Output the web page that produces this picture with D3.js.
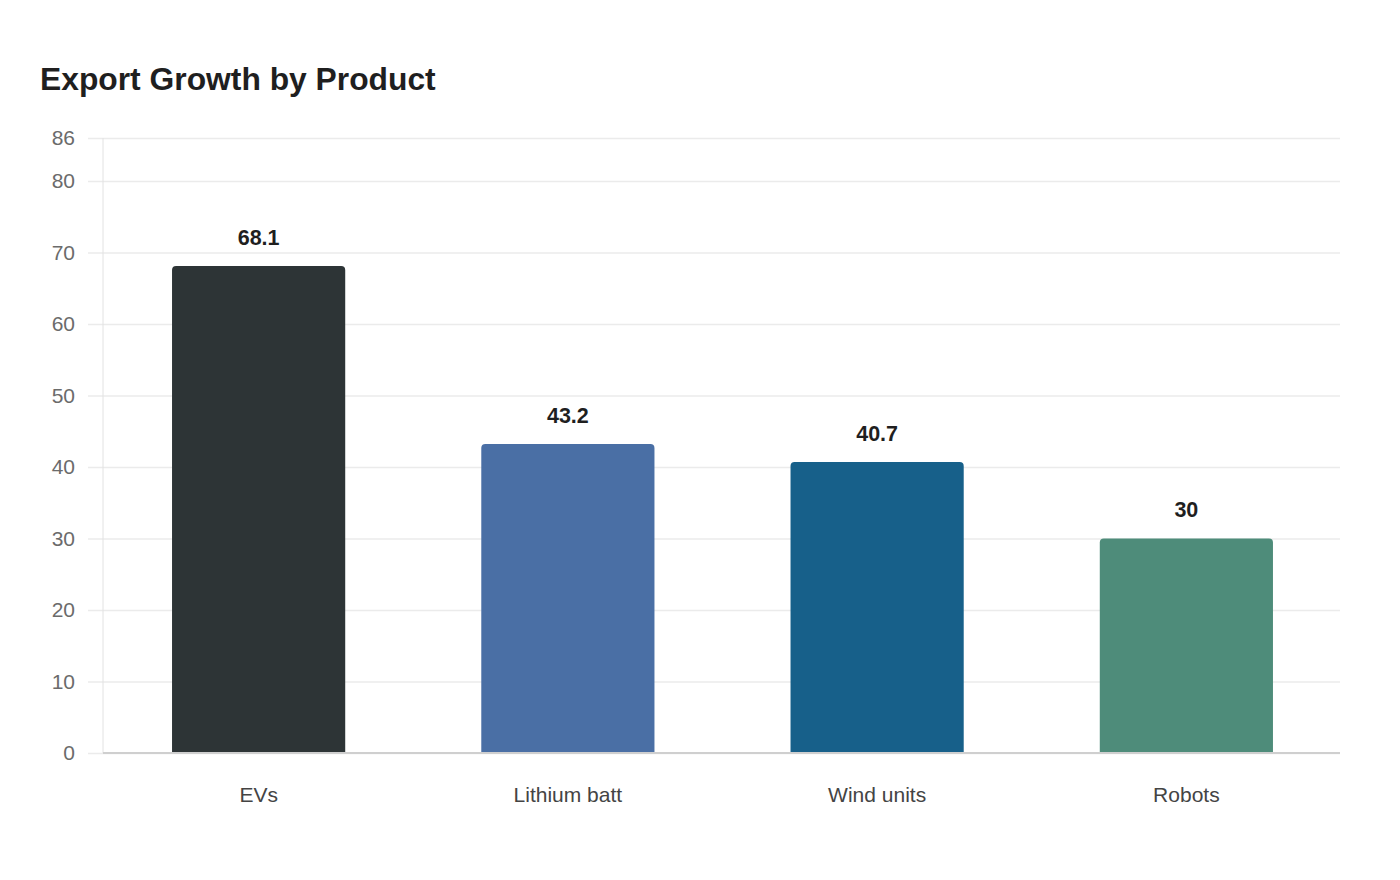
<!DOCTYPE html>
<html lang="en">
<head>
<meta charset="UTF-8" />
<title>Export Growth by Product</title>
<script src="https://cdnjs.cloudflare.com/ajax/libs/d3/7.8.5/d3.min.js"></script>
<style>
  * { margin: 0; padding: 0; box-sizing: border-box; }
  body { background: #fff; font-family: 'Liberation Sans', Arial, sans-serif; }
  svg { display: block; }
</style>
</head>
<body>
<svg id="chart" width="1400" height="880"></svg>
<script>
  // -------- data --------
  const products = ["EVs", "Lithium batt", "Wind units", "Robots"];
  const growth = [68.1, 43.2, 40.7, 30];
  const barColors = ["#2d3436", "#4a6fa5", "#17608a", "#4e8c7a"];
  const yTicks = [0, 10, 20, 30, 40, 50, 60, 70, 80, 86];
  const yMax = 86;

  const svg = d3.select("#chart");
  const m = { left: 103, right: 1340, top: 138, bottom: 753 };

  svg.append("text")
    .attr("x", 40).attr("y", 90)
    .attr("font-size", "31.8px").attr("font-weight", "bold")
    .attr("fill", "#1f1f1f")
    .text("Export Growth by Product");

  const x = d3.scaleBand().domain(products)
    .range([m.left + 1, m.right + 1]).paddingInner(0.44).paddingOuter(0.22);
  const y = d3.scaleLinear().domain([0, yMax]).range([m.bottom, m.top]);

  // grid + y labels
  const yAxis = svg.append("g")
    .attr("transform", `translate(${m.left},0)`)
    .call(d3.axisLeft(y).tickValues(yTicks).tickPadding(12)
      .tickSizeInner(-(m.right - m.left)).tickSizeOuter(0));
  yAxis.select(".domain").remove();
  yAxis.selectAll(".tick line")
    .attr("x1", -15).attr("stroke", "#ebebeb").attr("stroke-width", 1.5);
  yAxis.selectAll(".tick text")
    .attr("x", -28).attr("font-size", "21px").attr("fill", "#6b6b6b")
    .attr("font-family", "'Liberation Sans', Arial, sans-serif");

  // y axis line
  svg.append("line")
    .attr("x1", m.left).attr("x2", m.left)
    .attr("y1", y(yMax)).attr("y2", m.bottom)
    .attr("stroke", "#e2e2e2").attr("stroke-width", 1);

  // bars with rounded tops
  const r = 4;
  svg.append("g").selectAll("path")
    .data(growth)
    .enter()
    .append("path")
    .attr("fill", (d, i) => barColors[i])
    .attr("d", (d, i) => {
      const x0 = x(products[i]), w = x.bandwidth();
      const yt = y(d), yb = y(0);
      return `M${x0},${yb}V${yt + r}Q${x0},${yt} ${x0 + r},${yt}` +
        `H${x0 + w - r}Q${x0 + w},${yt} ${x0 + w},${yt + r}V${yb}Z`;
    });

  // value labels
  svg.append("g").selectAll("text")
    .data(growth)
    .enter()
    .append("text")
    .attr("x", (d, i) => x(products[i]) + x.bandwidth() / 2)
    .attr("y", d => y(d) - 21)
    .attr("text-anchor", "middle")
    .attr("font-size", "21.5px").attr("font-weight", "bold")
    .attr("fill", "#1f1f1f")
    .text(d => d);

  // x axis
  const xAxis = svg.append("g")
    .attr("transform", `translate(0,${m.bottom})`)
    .call(d3.axisBottom(x).tickSize(0).tickPadding(34));
  xAxis.select(".domain").attr("stroke", "#cfcfcf").attr("stroke-width", 2)
    .attr("d", `M${m.left},0H${m.right}`);
  xAxis.selectAll(".tick text")
    .attr("font-size", "21px").attr("fill", "#444")
    .attr("font-family", "'Liberation Sans', Arial, sans-serif");
</script>
</body>
</html>
